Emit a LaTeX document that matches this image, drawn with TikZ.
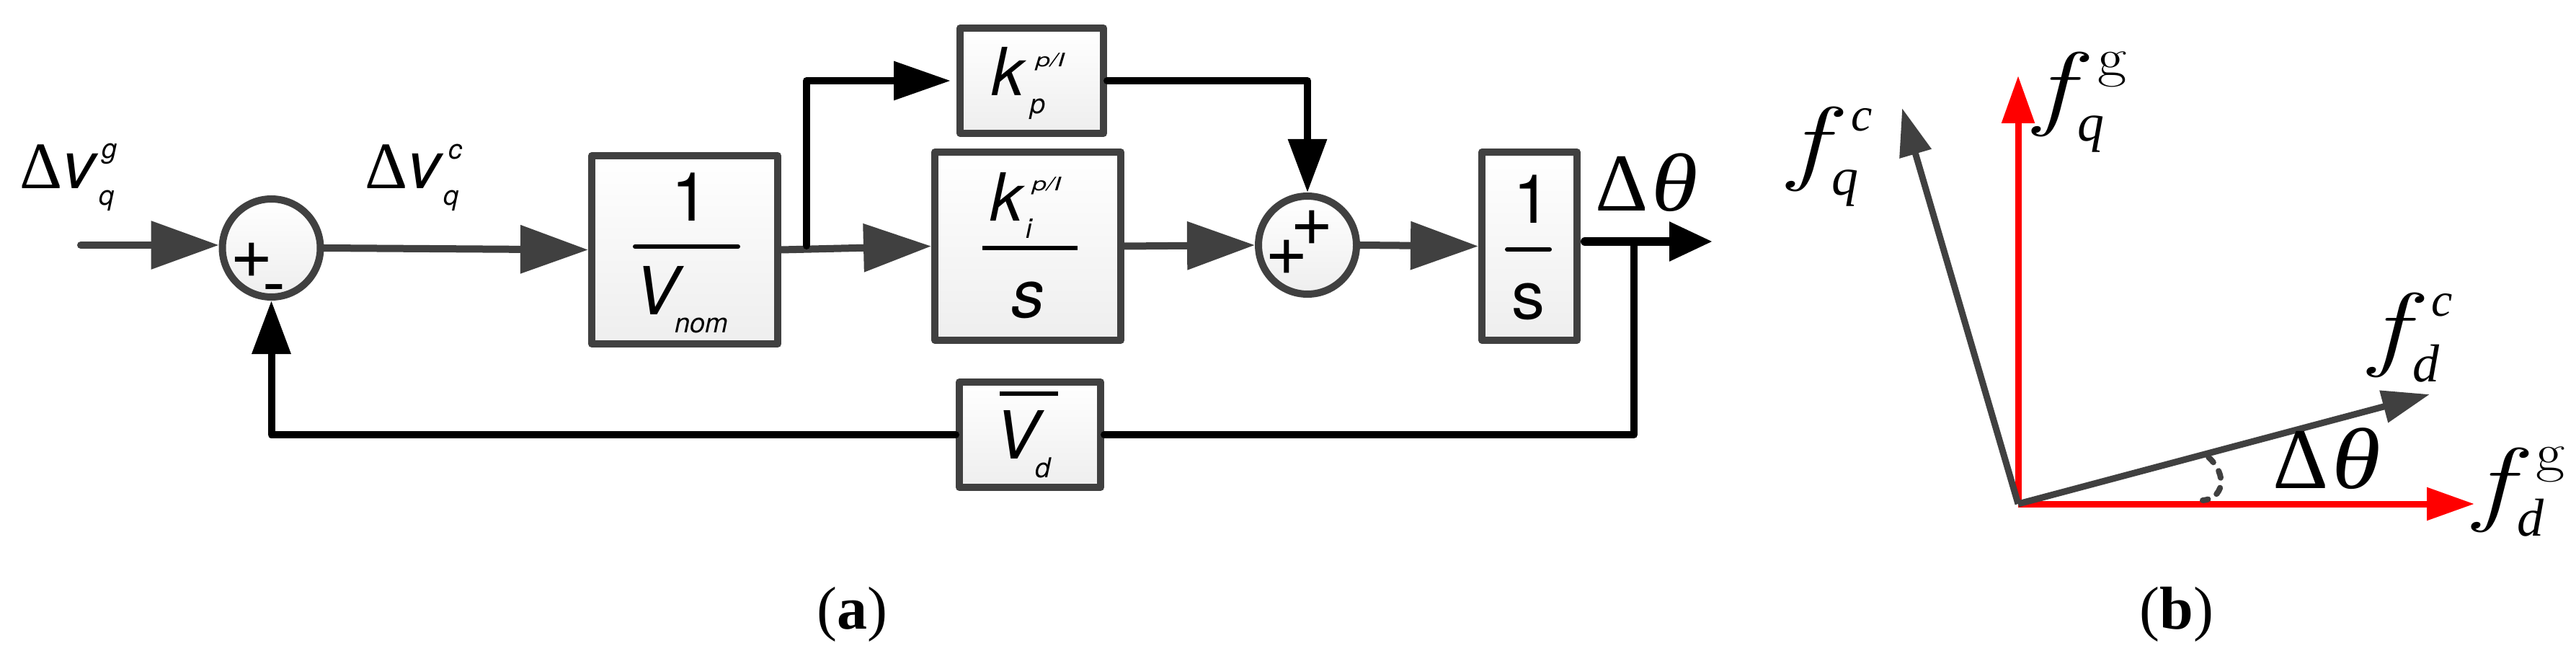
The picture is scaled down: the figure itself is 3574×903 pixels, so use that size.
\documentclass[tikz,border=0pt]{standalone}
\usepackage{fontspec}
\usepackage{graphicx}
\setmainfont{TeX Gyre Heros}
\newfontfamily\tms{Liberation Serif}
\newfontfamily\lmr{Latin Modern Roman}
\usetikzlibrary{arrows.meta}
\definecolor{dgray}{HTML}{404040}
\definecolor{lowfill}{HTML}{EEEEEE}
\newdimen\pxu \pxu=0.5pt
\newsavebox\lbox
\newcommand\fs[1]{\fontsize{#1}{#1}\selectfont}
% base, supx, supup, sup, subx, subdown, sub (px from the node's origin)
\newcommand\lab[7]{\sbox\lbox{#1}\usebox\lbox\rlap{\hspace*{\dimexpr#2\pxu-\wd\lbox\relax}\raisebox{#3\pxu}{#4}}\rlap{\hspace*{\dimexpr#5\pxu-\wd\lbox\relax}\raisebox{-#6\pxu}{#7}}}
\newcommand\sansb[1]{{\fs{46}\itshape #1}}
\newcommand\sanss[1]{{\fs{19}\itshape #1}}
\newcommand\sansu[1]{\scalebox{1}[0.72]{\fs{18}\itshape #1}}
\newcommand\timb[1]{\scalebox{1.3}[1]{\lmr\fs{65}\itshape #1}}
\newcommand\timr[1]{\scalebox{1.15}[1]{\lmr\fs{38}#1}}
\newcommand\timi[1]{{\tms\fs{37}\itshape #1}}
\newcommand\timc[1]{{\tms\fs{33}\itshape #1}}
\newcommand\dth[1]{{\tms\fs{#1}Δ\hspace{2.5pt}\scalebox{1.15}[1]{\itshape θ}}}
\tikzset{
  block/.style={draw=dgray,line width=5pt,line join=round,top color=white,bottom color=lowfill,inner sep=0pt},
  sumj/.style={draw=dgray,line width=5pt,circle,top color=white,bottom color=lowfill,inner sep=0pt,minimum size=68pt},
  txt/.style={anchor=base west,inner sep=0pt,outer sep=0pt,text=black},
  ctxt/.style={anchor=base,inner sep=0pt,outer sep=0pt,text=black},
  gconn/.style={draw=dgray,line width=5pt,line cap=round,-{Triangle[length=47pt,width=32.5pt]},dgray},
  bconn/.style={draw=black,line width=5pt,line cap=round,line join=round},
  bhead/.style={-{Triangle[length=39.5pt,width=26pt]},shorten >=4pt},
  bheadd/.style={-{Triangle[length=37pt,width=26pt]}},
  bheado/.style={-{Triangle[length=30pt,width=26pt]}},
  redv/.style={draw=red,line width=4.5pt,-{Triangle[length=33pt,width=22pt]},red},
  grayv/.style={draw=dgray,line width=4.5pt,-{Triangle[length=33pt,width=22pt]},dgray},
  fracline/.style={draw=black,line width=3pt,line cap=round},
  barline/.style={draw=black,line width=3pt},
  arcd/.style={draw=dgray,line width=4pt,line cap=round,dash pattern=on 5pt off 7pt},
  capt/.style={anchor=base,inner sep=0pt,outer sep=0pt,text=black,font=\tms\fs{42}},
}
\begin{document}
\begin{tikzpicture}[x=0.5pt,y=-0.5pt]
\useasboundingbox (0,0) rectangle (3574,903);

% blocks
\node[block,minimum width=129pt,minimum height=130.5pt] (vnom) at (950,346.5) {};
\node[block,minimum width=99.5pt,minimum height=73pt] (kp) at (1431.5,112) {};
\node[block,minimum width=129pt,minimum height=130.5pt] (ki) at (1426,341.5) {};
\node[block,minimum width=66pt,minimum height=130.5pt] (int) at (2122,341.5) {};
\node[block,minimum width=98pt,minimum height=73pt] (vd) at (1429,603) {};
\node[sumj] (sum1) at (376.5,344) {};
\node[sumj] (sum2) at (1814,340) {};

% free ends
\coordinate (in) at (112,340);
\coordinate (branch) at (1119,341);
\coordinate (outs) at (2199,335);
\coordinate (oute) at (2376,335);
\coordinate (tap) at (2267,335);

% connectors
\draw[gconn] (in) -- (sum1.west |- in);
\draw[gconn] (sum1.east) -- (vnom.west);
\draw[gconn] (vnom.east) -- (ki.west);
\draw[gconn] (ki.east) -- (sum2.west);
\draw[gconn] (sum2.east) -- (int.west);
\draw[bconn,bhead] (branch) |- (kp.west);
\draw[bconn,bheadd] (kp.east) -| (sum2.north);
\draw[bconn,bheado,line width=6pt] (outs) -- (oute);
\draw[bconn] (tap) |- (vd.east);
\draw[bconn,bheadd] (vd.west) -| (sum1.south);

% signal labels
\node[txt] (lvg) at (27,262) {\lab{{\tms\fs{46}Δ}\sansb{v}}{114}{42}{\sanss{g}}{110}{23}{\sanss{q}}};
\node[txt] (lvc) at (506,262) {\lab{{\tms\fs{46}Δ}\sansb{v}}{116}{41}{\sanss{c}}{109}{23}{\sanss{q}}};
\node[txt] (lth) at (2213,293) {\dth{57}};

% summing signs
\node[ctxt] (p1) at (349,386) {\fs{51}+};
\node[ctxt] (m1) at (380,424) {\fs{48}-};
\node[ctxt] (p2) at (1820,341) {\fs{51}+};
\node[ctxt] (p3) at (1785,382) {\fs{51}+};

% block contents
\node[ctxt] (v1) at (957.5,307) {\fs{47}1};
\coordinate (vfa) at (881,342); \coordinate (vfb) at (1024,342);
\draw[fracline] (vfa) -- (vfb);
\node[txt] (vv) at (880,437) {\lab{\sansb{V}}{56}{0}{}{56}{25}{\sanss{nom}}};

\node[txt] (kpt) at (1375,133) {\lab{\sansb{k}}{62}{40}{\sansu{p/I}}{54}{25}{\sanss{p}}};

\node[txt] (kit) at (1373,307) {\lab{\sansb{k}}{59}{42}{\sansu{p/I}}{50}{24}{\sanss{i}}};
\coordinate (kfa) at (1363,344); \coordinate (kfb) at (1495,344);
\draw[barline] (kfa) -- (kfb);
\node[ctxt] (ks) at (1426,440) {\sansb{s}};

\node[ctxt] (i1) at (2125.5,310) {\fs{47}1};
\coordinate (ifa) at (2091,346); \coordinate (ifb) at (2150,346);
\draw[fracline] (ifa) -- (ifb);
\node[ctxt] (is) at (2120,442) {\fs{46}s};

\coordinate (bara) at (1387,546); \coordinate (barb) at (1468,546);
\draw[barline] (bara) -- (barb);
\node[txt] (vdt) at (1380,636) {\lab{\sansb{V}}{56}{0}{}{56}{26}{\sanss{d}}};

% panel b
\coordinate (o) at (2800,699);
\coordinate (qg) at (2800,105);
\coordinate (dg) at (3433,699);
\coordinate (qc) at (2639,150);
\coordinate (dc) at (3371,547);
\draw[redv] (o) -- (qg);
\draw[redv] (o) -- (dg);
\draw[grayv] (o) -- (qc);
\draw[grayv] (o) -- (dc);
\coordinate (aa) at (3064,634); \coordinate (ab) at (3056,694);
\draw[arcd] (aa) .. controls (3092,660) and (3084,692) .. (ab);

\node[txt] (fqg) at (2823,164) {\lab{\timb{f}}{87}{58}{\timr{g}}{59}{32}{\timi{q}}};
\node[txt] (fqc) at (2482,240) {\lab{\timb{f}}{86}{58}{\timc{c}}{59}{31}{\timi{q}}};
\node[txt] (fdc) at (3288,497) {\lab{\timb{f}}{85}{59}{\timc{c}}{59}{32}{\timi{d}}};
\node[txt] (fdg) at (3433,712) {\lab{\timb{f}}{85}{59}{\timr{g}}{59}{31}{\timi{d}}};
\node[txt] (dtb) at (3153,677) {\dth{60}};

% captions
\node[capt] (capa) at (1182,872) {({\bfseries a})};
\node[capt] (capb) at (3020,872) {({\bfseries b})};
\end{tikzpicture}
\end{document}
